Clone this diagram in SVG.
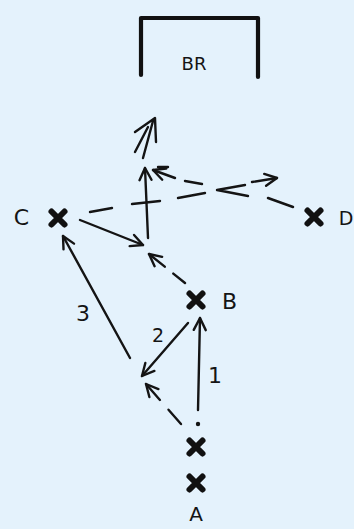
<svg xmlns="http://www.w3.org/2000/svg" width="354" height="529" viewBox="0 0 354 529">
<style>
  .ln { fill: none; stroke: #141414; stroke-width: 2.4; stroke-linecap: round; stroke-linejoin: round; }
  .x { fill: none; stroke: #111; stroke-width: 6; stroke-linecap: round; }
  .t { font-family: "DejaVu Sans", "Liberation Sans", sans-serif; fill: #141414; text-anchor: middle; }
  .br { fill: none; stroke: #111; stroke-width: 4.2; stroke-linecap: round; stroke-linejoin: round; }
</style>
<defs>
  <marker id="ah" markerUnits="userSpaceOnUse" viewBox="-15 -9 18 18" refX="0" refY="0" markerWidth="18" markerHeight="18" orient="auto">
    <path d="M-12,-6 L0,0 L-12,6" fill="none" stroke="#141414" stroke-width="2.4" stroke-linecap="round" stroke-linejoin="round"/>
  </marker>
  <path id="xm" d="M-6.5,-6.5 L6.5,6.5 M6.5,-6.5 L-6.5,6.5"/>
</defs>
<rect width="354" height="529" fill="#e4f2fc"/>

<g id="BR">
  <path class="br" d="M141,75 L141,18 L258,18 L258,77"/>
  <text class="t" x="194" y="70" font-size="18">BR</text>
</g>
<g id="node-C">
  <use href="#xm" class="x" x="58" y="218"/>
  <text class="t" x="21.5" y="225" font-size="22">C</text>
</g>
<g id="node-D">
  <use href="#xm" class="x" x="314" y="217"/>
  <text class="t" x="346" y="225" font-size="19">D</text>
</g>
<g id="node-B">
  <use href="#xm" class="x" x="196" y="300"/>
  <text class="t" x="229.5" y="309" font-size="22">B</text>
</g>
<g id="node-A">
  <use href="#xm" class="x" x="196" y="447"/>
  <use href="#xm" class="x" x="196" y="483"/>
  <circle cx="198" cy="424" r="2.2" fill="#141414"/>
  <text class="t" x="196" y="521" font-size="20">A</text>
</g>

<g id="connectors">
  <!-- double arrow toward BR -->
  <path class="ln" d="M135,152 L148,127 M143,158 L153,121 M135,132 L155,118 L156,142"/>
  <!-- vertical arrow -->
  <path class="ln" d="M148,238 L145,168" marker-end="url(#ah)"/>
  <!-- C to junction -->
  <path class="ln" d="M80,220 L143,245" marker-end="url(#ah)"/>
  <!-- arrow 3 -->
  <path class="ln" d="M130,358 L63,236" marker-end="url(#ah)"/>
  <!-- arrow 2 -->
  <path class="ln" d="M188,323 L142,376" marker-end="url(#ah)"/>
  <!-- arrow 1 -->
  <path class="ln" d="M198,410 L200,318" marker-end="url(#ah)"/>
  <!-- dashed B arrow -->
  <path class="ln" d="M185,283 L149,254" stroke-dasharray="15 11 30" marker-end="url(#ah)"/>
  <!-- dashed bottom arrow -->
  <path class="ln" d="M181,424 L146,384" stroke-dasharray="19 13 40" marker-end="url(#ah)"/>
  <!-- dashed C -> right -->
  <path class="ln" d="M90,212 L112,208 M132,204 L160,201 M178,198 L205,193"/>
  <path class="ln" d="M252,182 L277,178" marker-end="url(#ah)"/>
  <!-- middle chevron -->
  <path class="ln" d="M245,185 L217,190 L248,196"/>
  <!-- dashed D -> top -->
  <path class="ln" d="M293,207 L268,198 M202,184 L185,181"/>
  <path class="ln" d="M175,178 L153,170" marker-end="url(#ah)"/>
  <path class="ln" d="M168,167 L158,167"/>
</g>

<g id="labels">
  <text class="t" x="83" y="321" font-size="22">3</text>
  <text class="t" x="158" y="342" font-size="19">2</text>
  <text class="t" x="215" y="383" font-size="22">1</text>
</g>
</svg>
